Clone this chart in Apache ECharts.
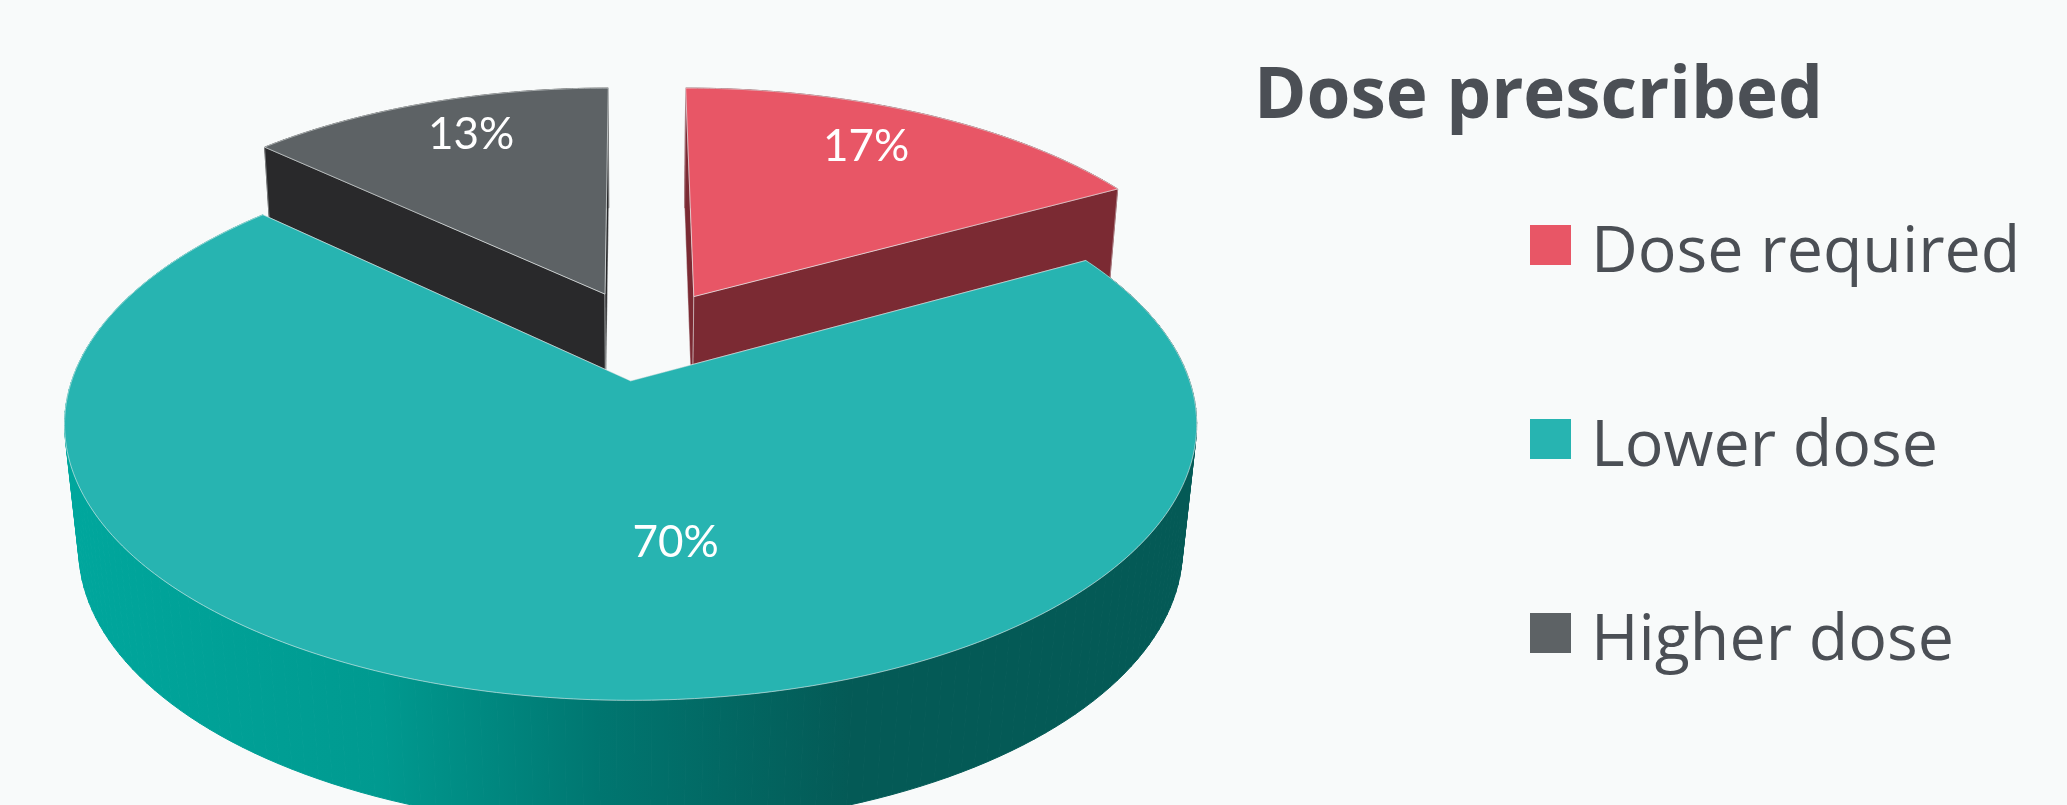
<!DOCTYPE html>
<html><head><meta charset="utf-8">
<style>html,body{margin:0;padding:0;background:#f8fafa}#c{width:2067px;height:805px}</style>
<script src="https://cdn.jsdelivr.net/npm/echarts@6/dist/echarts.min.js"></script>
</head><body><div id="c"></div>
<script>
// ---- data ----
const chartTitle = 'Dose prescribed';
const categories = ['Dose required', 'Lower dose', 'Higher dose'];
const values = [17, 70, 13];
// ---- styles ----
const topColors = ['#e85666', '#27b4b1', '#5d6265'];
const wallColors = ['#7b2a33', '#00695f', '#29292b'];
const tealWallStops = [
  {offset: 0, color: '#00a79d'}, {offset: 0.4, color: '#009a90'},
  {offset: 0.68, color: '#007670'}, {offset: 1, color: '#045a56'}
];
// ---- 3D camera used to project the pie ----
const cam = {ox: 630.8, oy: 381, f: 559, g: 269, k: 0.158, h: 128, m: 0.025, n: 0.035};
const pie = {cx: 0.022, cy: -0.177, explode: 0.178, radius: [0.985, 1, 0.975], nudgeX: [0.006, 0, 0]};
const labelPlace = {r: [0.775, 0.555, 0.785], shift: [-2.1, -14.8, 2.1]};

const total = values.reduce((a, b) => a + b, 0);
function project(X, Y, z) {
  const D = 1 - cam.k * Y + cam.m * z;
  return [cam.ox + cam.f * X / D, cam.oy + (cam.g * (1 - cam.n * z) * Y + cam.h * z) / D];
}
function sliceGeom(i) {
  const before = values.slice(0, i).reduce((a, b) => a + b, 0);
  const a0 = before / total * 2 * Math.PI;
  const a1 = (before + values[i]) / total * 2 * Math.PI;
  const mid = (a0 + a1) / 2;
  return {a0, a1, mid,
    ax: pie.cx + pie.explode * Math.sin(mid) + pie.nudgeX[i],
    ay: pie.cy - pie.explode * Math.cos(mid),
    r: pie.radius[i]};
}
function renderSlice(i) {
  return function () {
    const s = sliceGeom(i);
    const steps = Math.max(12, Math.round(values[i] * 2.4));
    const pt = (a, z) => project(s.ax + s.r * Math.sin(a), s.ay - s.r * Math.cos(a), z);
    const apex = z => project(s.ax, s.ay, z);
    const children = [];
    const fill = i === 1
      ? {type: 'linear', x: 65, y: 0, x2: 850, y2: 0, global: true, colorStops: tealWallStops}
      : wallColors[i];
    // curved outer wall
    for (let n = 0; n < steps; n++) {
      const a = s.a0 + (s.a1 - s.a0) * n / steps, b = s.a0 + (s.a1 - s.a0) * (n + 1) / steps;
      children.push({type: 'polygon', shape: {points: [pt(a, 0), pt(b, 0), pt(b, 1), pt(a, 1)]},
        style: {fill: fill, stroke: fill, lineWidth: 1}});
    }
    // flat cut walls
    [s.a0, s.a1].forEach(a => children.push({type: 'polygon',
      shape: {points: [apex(0), pt(a, 0), pt(a, 1), apex(1)]},
      style: {fill: fill, stroke: 'rgba(235,240,240,0.55)', lineWidth: 0.8}}));
    // top face
    const top = [apex(0)];
    for (let n = 0; n <= steps * 2; n++) top.push(pt(s.a0 + (s.a1 - s.a0) * n / (steps * 2), 0));
    children.push({type: 'polygon', shape: {points: top},
      style: {fill: topColors[i], stroke: 'rgba(235,240,240,0.6)', lineWidth: 1}});
    // percentage label
    const la = s.mid + labelPlace.shift[i] * Math.PI / 180;
    const lp = project(s.ax + labelPlace.r[i] * Math.sin(la), s.ay - labelPlace.r[i] * Math.cos(la), 0);
    children.push({type: 'text', x: lp[0], y: lp[1], style: {
      text: values[i] + '%', fill: '#ffffff', font: '44px Lato', align: 'center', verticalAlign: 'middle'}});
    return {type: 'group', children};
  };
}
const series = categories.map((name, i) => ({
  type: 'custom', name, coordinateSystem: 'none', silent: true, animation: false,
  z: i === 1 ? 5 : 2, clip: false,
  itemStyle: {color: topColors[i]},
  data: [[values[i]]],
  renderItem: renderSlice(i)
}));
const chart = echarts.init(document.getElementById('c'), null, {renderer: 'canvas', width: 2067, height: 805});
chart.setOption({
  animation: false,
  backgroundColor: '#f8fafa',
  title: {text: chartTitle, left: 1254, top: 62, padding: 0,
    textStyle: {fontFamily: 'Open Sans', fontWeight: 'bold', fontSize: 71, color: '#4b4f55'}},
  legend: {orient: 'vertical', left: 1530, top: 221.5, padding: 0, itemWidth: 41, itemHeight: 40, itemGap: 129,
    selectedMode: false, icon: 'rect', data: categories,
    formatter: name => '{t|' + name + '}',
    textStyle: {rich: {t: {fontFamily: 'Open Sans', fontSize: 64.5, color: '#4b4f55', padding: [18, 0, 0, 15]}}}},
  series
});
</script></body></html>
